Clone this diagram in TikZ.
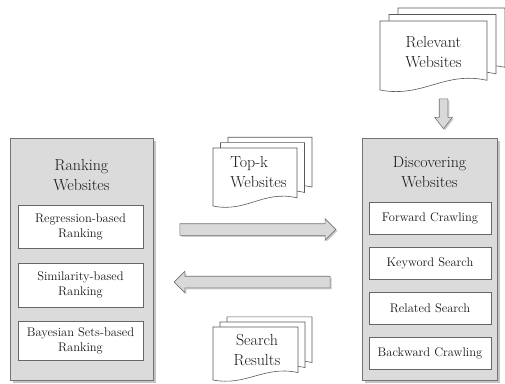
\documentclass[tikz,border=0pt]{standalone}
\usepackage{tikz}
\usetikzlibrary{shapes.arrows,shadows}

\tikzset{
  bigbox/.style={draw=black!55, fill=black!14, line width=0.8pt,
    drop shadow={shadow xshift=2.5pt, shadow yshift=-2.5pt, fill=black!45}},
  itembox/.style={draw=black!60, fill=white, line width=0.6pt, align=center,
    text=black!90, font=\fontsize{12.5}{15}\selectfont},
  ttl/.style={align=center, text=black!90, font=\fontsize{16}{20}\selectfont},
  sheet/.style={draw=black!65, fill=white, line width=0.6pt},
  blockarrow/.style={single arrow, draw=black!55, fill=black!15, line width=0.6pt,
    inner sep=5.5pt, single arrow head extend=5pt,
    drop shadow={shadow xshift=1.5pt, shadow yshift=-1.5pt, fill=black!40}},
}

% stack of three pages: x, y (top left of front page), width, height, step
\newcommand{\docstack}[5]{%
  \foreach \k in {2,1,0}{
    \draw[sheet, shift={(#1+\k*#5,#2-\k*0.72*#5)}]
      (0,0) -- (#3,0) -- (#3,{0.86*#4})
      .. controls ({0.6*#3},{0.72*#4}) and ({0.4*#3},{1.12*#4}) .. (0,#4) -- cycle;
  }%
}

\begin{document}
\begin{tikzpicture}[x=1pt,y=-1pt]
   \useasboundingbox (0,0) rectangle (505,383);

   % ranking side
   \node[bigbox, minimum width=143pt, minimum height=242pt] (rankbox) at (81.5,259) {};
   \node[ttl] (rankttl) at (81.5,175) {Ranking\\Websites};
   \node[itembox, minimum width=125pt, minimum height=43pt] (regbox) at (80.5,226.5) {Regression-based\\Ranking};
   \node[itembox, minimum width=125pt, minimum height=44pt] (simbox) at (80.5,285) {Similarity-based\\Ranking};
   \node[itembox, minimum width=125pt, minimum height=39pt] (bayesbox) at (80.5,340.5) {Bayesian Sets-based\\Ranking};

   % discovering side
   \node[bigbox, minimum width=135pt, minimum height=242pt] (discbox) at (429.5,259) {};
   \node[ttl] (discttl) at (429.5,172.5) {Discovering\\Websites};
   \node[itembox, minimum width=122pt, minimum height=32pt] (fwdbox) at (430,218) {Forward Crawling};
   \node[itembox, minimum width=122pt, minimum height=32pt] (keybox) at (430,263) {Keyword Search};
   \node[itembox, minimum width=122pt, minimum height=32pt] (relbox) at (430,308) {Related Search};
   \node[itembox, minimum width=122pt, minimum height=32pt] (bwdbox) at (430,353) {Backward Crawling};

   % documents
   \docstack{380}{21}{107}{69}{9}
   \node[ttl] (relweb) at (433.5,52.5) {Relevant\\Websites};
   \docstack{213}{148}{84}{58}{7.5}
   \node[ttl, align=left] (topk) at (258.5,172) {Top-k\\Websites};
   \docstack{213}{327}{85}{53}{7}
   \node[ttl] (srchres) at (257,350) {Search\\Results};

   % arrows
   \node[blockarrow, minimum height=156pt] (fwdarrow) at (255,229.5) {};
   \node[blockarrow, minimum height=156pt, shape border rotate=180] (backarrow) at (255,282) {};
   \node[blockarrow, minimum height=30pt, inner sep=4pt, single arrow head extend=4.5pt,
     single arrow tip angle=75, shape border rotate=270] (downarrow) at (443.5,111) {};
\end{tikzpicture}
\end{document}
